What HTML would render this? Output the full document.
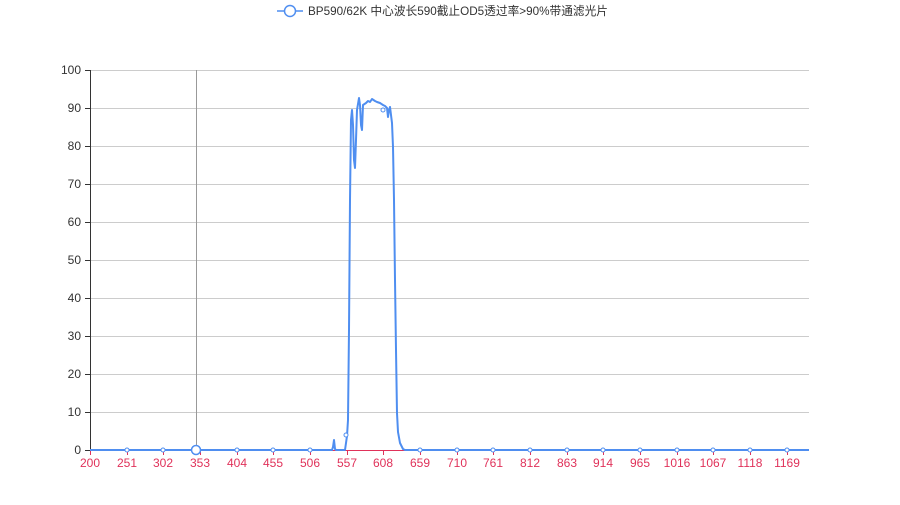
<!DOCTYPE html>
<html><head><meta charset="utf-8"><style>
body{margin:0;background:#fff;width:900px;height:500px;overflow:hidden;font-family:"Liberation Sans","Noto Sans CJK SC",sans-serif}
</style></head><body>
<svg width="900" height="500" xmlns="http://www.w3.org/2000/svg" font-family="Liberation Sans, Noto Sans CJK SC, sans-serif">
<g stroke="#ccc" stroke-width="1">
<line x1="90" y1="70.5" x2="809" y2="70.5"/><line x1="90" y1="108.5" x2="809" y2="108.5"/>
<line x1="90" y1="146.5" x2="809" y2="146.5"/><line x1="90" y1="184.5" x2="809" y2="184.5"/>
<line x1="90" y1="222.5" x2="809" y2="222.5"/><line x1="90" y1="260.5" x2="809" y2="260.5"/>
<line x1="90" y1="298.5" x2="809" y2="298.5"/><line x1="90" y1="336.5" x2="809" y2="336.5"/>
<line x1="90" y1="374.5" x2="809" y2="374.5"/><line x1="90" y1="412.5" x2="809" y2="412.5"/>
</g>
<line x1="196.5" y1="70" x2="196.5" y2="450" stroke="#999"/>
<line x1="90.5" y1="70" x2="90.5" y2="450" stroke="#333"/>
<g stroke="#333"><line x1="85" y1="70.5" x2="90" y2="70.5"/><line x1="85" y1="108.5" x2="90" y2="108.5"/><line x1="85" y1="146.5" x2="90" y2="146.5"/><line x1="85" y1="184.5" x2="90" y2="184.5"/><line x1="85" y1="222.5" x2="90" y2="222.5"/><line x1="85" y1="260.5" x2="90" y2="260.5"/><line x1="85" y1="298.5" x2="90" y2="298.5"/><line x1="85" y1="336.5" x2="90" y2="336.5"/><line x1="85" y1="374.5" x2="90" y2="374.5"/><line x1="85" y1="412.5" x2="90" y2="412.5"/><line x1="85" y1="450.5" x2="90" y2="450.5"/></g>
<g font-size="12" fill="#333" text-anchor="end">
<text x="81" y="74">100</text><text x="81" y="112">90</text><text x="81" y="150">80</text><text x="81" y="188">70</text><text x="81" y="226">60</text><text x="81" y="264">50</text><text x="81" y="302">40</text><text x="81" y="340">30</text><text x="81" y="378">20</text><text x="81" y="416">10</text><text x="81" y="454">0</text>
</g>
<line x1="90" y1="450.5" x2="809" y2="450.5" stroke="#e0325a"/>
<g stroke="#e0325a">
<line x1="90.5" y1="450" x2="90.5" y2="455"/><line x1="127.5" y1="450" x2="127.5" y2="455"/><line x1="163.5" y1="450" x2="163.5" y2="455"/><line x1="200.5" y1="450" x2="200.5" y2="455"/><line x1="237.5" y1="450" x2="237.5" y2="455"/><line x1="273.5" y1="450" x2="273.5" y2="455"/><line x1="310.5" y1="450" x2="310.5" y2="455"/><line x1="347.5" y1="450" x2="347.5" y2="455"/><line x1="383.5" y1="450" x2="383.5" y2="455"/><line x1="420.5" y1="450" x2="420.5" y2="455"/><line x1="457.5" y1="450" x2="457.5" y2="455"/><line x1="493.5" y1="450" x2="493.5" y2="455"/><line x1="530.5" y1="450" x2="530.5" y2="455"/><line x1="567.5" y1="450" x2="567.5" y2="455"/><line x1="603.5" y1="450" x2="603.5" y2="455"/><line x1="640.5" y1="450" x2="640.5" y2="455"/><line x1="677.5" y1="450" x2="677.5" y2="455"/><line x1="713.5" y1="450" x2="713.5" y2="455"/><line x1="750.5" y1="450" x2="750.5" y2="455"/><line x1="787.5" y1="450" x2="787.5" y2="455"/>
</g>
<g font-size="12" fill="#e0325a" text-anchor="middle">
<text x="90" y="467">200</text><text x="127" y="467">251</text><text x="163" y="467">302</text><text x="200" y="467">353</text><text x="237" y="467">404</text><text x="273" y="467">455</text><text x="310" y="467">506</text><text x="347" y="467">557</text><text x="383" y="467">608</text><text x="420" y="467">659</text><text x="457" y="467">710</text><text x="493" y="467">761</text><text x="530" y="467">812</text><text x="567" y="467">863</text><text x="603" y="467">914</text><text x="640" y="467">965</text><text x="677" y="467">1016</text><text x="713" y="467">1067</text><text x="750" y="467">1118</text><text x="787" y="467">1169</text>
</g>
<polyline fill="none" stroke="#4f8ef0" stroke-width="2" stroke-linejoin="round" points="90,450 332,450 333,447 334,440 335,449 336,450 345,450 347,436 348,420 349,330 350,200 351,120 352,110 353,125 354,160 355,168 356,140 357,110 359,98 360,105 361,125 362,130 363,105 366,103 368,101 370,102 372,99 375,101 377,102 380,103 383,105 385,106 387,108 388,117 389,110 390,107 391,115 392,123 393,147 394,200 395,280 396,350 397,413 398,432 400,443 403,449 405,450 809,450"/>
<g fill="#fff" stroke="#4f8ef0" stroke-width="1">
<circle cx="127" cy="450" r="2"/><circle cx="163" cy="450" r="2"/><circle cx="237" cy="450" r="2"/><circle cx="273" cy="450" r="2"/><circle cx="310" cy="450" r="2"/><circle cx="346" cy="435" r="2"/><circle cx="383" cy="110" r="2"/><circle cx="420" cy="450" r="2"/><circle cx="457" cy="450" r="2"/><circle cx="493" cy="450" r="2"/><circle cx="530" cy="450" r="2"/><circle cx="567" cy="450" r="2"/><circle cx="603" cy="450" r="2"/><circle cx="640" cy="450" r="2"/><circle cx="677" cy="450" r="2"/><circle cx="713" cy="450" r="2"/><circle cx="750" cy="450" r="2"/><circle cx="787" cy="450" r="2"/>
<circle cx="196" cy="450" r="4.5" stroke-width="1.5"/>
</g>
<line x1="277" y1="11" x2="303" y2="11" stroke="#4f8ef0" stroke-width="1.5"/>
<circle cx="290" cy="11" r="5.5" fill="#fff" stroke="#4f8ef0" stroke-width="1.5"/>
<text x="308" y="15" font-size="12" fill="#333" textLength="300" lengthAdjust="spacingAndGlyphs">BP590/62K 中心波长590截止OD5透过率&gt;90%带通滤光片</text>
</svg>
</body></html>
